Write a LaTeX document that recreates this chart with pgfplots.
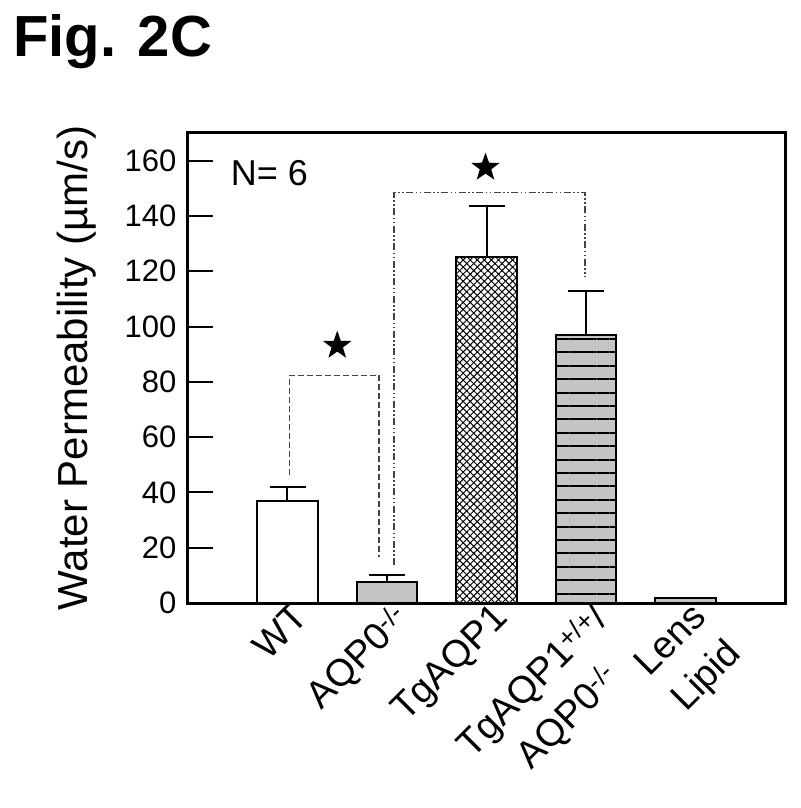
\documentclass[border=0pt]{standalone}
\usepackage{fontspec}
\setmainfont{Liberation Sans}
\usepackage{pgfplots}
\pgfplotsset{compat=1.18}
\usetikzlibrary{patterns.meta}
\definecolor{barGray}{HTML}{C4C4C4}
\definecolor{brk}{HTML}{444444}

\pgfdeclareplotmark{fstar}{%
  \pgfpathmoveto{\pgfpointpolar{90}{\pgfplotmarksize}}%
  \pgfpathlineto{\pgfpointpolar{126}{0.40\pgfplotmarksize}}%
  \pgfpathlineto{\pgfpointpolar{162}{\pgfplotmarksize}}%
  \pgfpathlineto{\pgfpointpolar{198}{0.40\pgfplotmarksize}}%
  \pgfpathlineto{\pgfpointpolar{234}{\pgfplotmarksize}}%
  \pgfpathlineto{\pgfpointpolar{270}{0.40\pgfplotmarksize}}%
  \pgfpathlineto{\pgfpointpolar{306}{\pgfplotmarksize}}%
  \pgfpathlineto{\pgfpointpolar{342}{0.40\pgfplotmarksize}}%
  \pgfpathlineto{\pgfpointpolar{18}{\pgfplotmarksize}}%
  \pgfpathlineto{\pgfpointpolar{54}{0.40\pgfplotmarksize}}%
  \pgfpathclose\pgfusepathqfill}

\begin{document}
\begin{tikzpicture}
\useasboundingbox (-188pt,-205pt) rectangle (612pt,603pt);
\node[anchor=base west, inner sep=0pt, font=\bfseries\fontsize{58}{70}\selectfont] at (-175pt,546pt) {Fig. 2C};
\begin{axis}[
  at={(0pt,0pt)}, anchor=south west,
  width=597pt, height=470pt, scale only axis,
  xmin=-1, xmax=5, ymin=0, ymax=170,
  axis line style={line width=3pt},
  ytick={0,20,...,160},
  ytick pos=left,
  tick align=inside,
  major tick length=25pt,
  y tick style={line width=2pt, black},
  yticklabel style={font=\fontsize{31}{37}\selectfont, xshift=-8pt},
  /pgf/number format/assume math mode=true,
  xtick={0,1,2,3,4},
  x tick style={draw=none},
  xticklabels={{WT},{AQP0\textsuperscript{-/-}},{TgAQP1},{TgAQP1\textsuperscript{+/+}/\\AQP0\textsuperscript{-/-}},{Lens\\Lipid}},
  xticklabel style={font=\fontsize{38}{50}\selectfont, rotate=45, anchor=north east, align=center, xshift=8pt, yshift=2pt},
  ylabel={Water Permeability (µm/s)},
  ylabel style={font=\fontsize{42}{50}\selectfont, at={(axis description cs:-0.169,0.5)}, anchor=base},
  clip=false,
]
% WT
\addplot[ybar, bar shift=0pt, bar width=0.61, fill=white, draw=black, line width=2pt,
  error bars/.cd, y dir=plus, y explicit,
  error bar style={line width=2pt, black},
  error mark options={rotate=90, mark size=18pt, line width=2pt, black}]
  coordinates {(0,37) +- (0,5)};
% AQP0-/-
\addplot[ybar, bar shift=0pt, bar width=0.61, fill=barGray, draw=black, line width=2pt,
  error bars/.cd, y dir=plus, y explicit,
  error bar style={line width=2pt, black},
  error mark options={rotate=90, mark size=18pt, line width=2pt, black}]
  coordinates {(1,7.7) +- (0,2.4)};
% TgAQP1
\addplot[ybar, bar shift=0pt, bar width=0.61, fill=white, draw=black, line width=2pt,
  postaction={pattern={Lines[angle=45,distance=5pt,line width=1pt]}},
  postaction={pattern={Lines[angle=-45,distance=5pt,line width=1pt]}},
  error bars/.cd, y dir=plus, y explicit,
  error bar style={line width=2pt, black},
  error mark options={rotate=90, mark size=18pt, line width=2pt, black}]
  coordinates {(2,125) +- (0,18.5)};
% TgAQP1+/+/AQP0-/-
\addplot[ybar, bar shift=0pt, bar width=0.61, fill=barGray, draw=black, line width=2pt,
  postaction={pattern={Lines[angle=0,distance=13.4pt,line width=2pt]}},
  error bars/.cd, y dir=plus, y explicit,
  error bar style={line width=2pt, black},
  error mark options={rotate=90, mark size=18pt, line width=2pt, black}]
  coordinates {(3,97) +- (0,15.8)};
% Lens lipid
\addplot[ybar, bar shift=0pt, bar width=0.61, fill=barGray, draw=black, line width=1.5pt]
  coordinates {(4,1.8)};
% brackets
\addplot[brk, line width=1.4pt, dash pattern=on 6pt off 3pt] coordinates {(0.02,46.2) (0.02,82.3) (0.92,82.3) (0.92,16.7)};
\addplot[brk, line width=1.4pt, dash pattern=on 7pt off 2.5pt on 1.5pt off 2.5pt on 1.5pt off 2.5pt] coordinates {(1.07,13.7) (1.07,148.5) (2.99,148.5) (2.99,117.8)};
% stars
\addplot[only marks, mark=fstar, mark size=15pt, black] coordinates {(0.5,93.1) (1.99,157.5)};
\node[anchor=west, inner sep=0pt, font=\fontsize{36}{43}\selectfont] at (axis cs:-0.57,155.6) {N= 6};
\end{axis}
\end{tikzpicture}
\end{document}
